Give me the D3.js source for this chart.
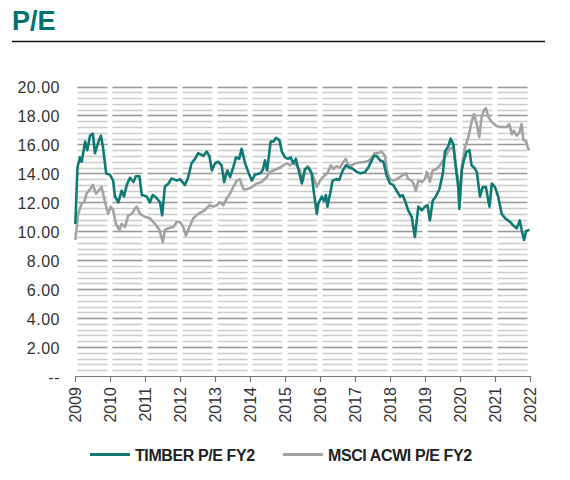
<!DOCTYPE html>
<html>
<head>
<meta charset="utf-8">
<script src="https://cdn.jsdelivr.net/npm/d3@7"></script>
<style>
body { margin: 0; background: #fff; }
text { font-family: "Liberation Sans", Arial, sans-serif; }
</style>
</head>
<body>
<svg id="chart"></svg>
<script>
// TIMBER P/E FY2 (decimal year, value)
var timberDates = [2009.01, 2009.07, 2009.14, 2009.19, 2009.29, 2009.35, 2009.43, 2009.51, 2009.57, 2009.67,
    2009.74, 2009.80, 2009.89, 2010.00, 2010.09, 2010.14, 2010.24, 2010.33, 2010.40, 2010.48,
    2010.57, 2010.67, 2010.74, 2010.84, 2010.91, 2011.05, 2011.14, 2011.22, 2011.33, 2011.43,
    2011.49, 2011.57, 2011.67, 2011.76, 2011.91, 2012.00, 2012.14, 2012.23, 2012.33, 2012.43,
    2012.52, 2012.67, 2012.76, 2012.84, 2012.91, 2013.00, 2013.09, 2013.19, 2013.26, 2013.35,
    2013.43, 2013.52, 2013.60, 2013.69, 2013.76, 2013.86, 2013.95, 2014.05, 2014.14, 2014.29,
    2014.36, 2014.43, 2014.49, 2014.59, 2014.67, 2014.74, 2014.84, 2014.91, 2015.00, 2015.09,
    2015.16, 2015.24, 2015.31, 2015.38, 2015.48, 2015.57, 2015.67, 2015.76, 2015.83, 2015.91,
    2015.95, 2016.05, 2016.11, 2016.17, 2016.21, 2016.29, 2016.36, 2016.46, 2016.55, 2016.65,
    2016.74, 2016.84, 2016.95, 2017.05, 2017.16, 2017.29, 2017.38, 2017.48, 2017.54, 2017.62,
    2017.71, 2017.81, 2017.91, 2018.00, 2018.09, 2018.19, 2018.29, 2018.36, 2018.43, 2018.52,
    2018.62, 2018.71, 2018.81, 2018.91, 2019.00, 2019.07, 2019.14, 2019.22, 2019.31, 2019.41,
    2019.51, 2019.57, 2019.67, 2019.73, 2019.81, 2019.89, 2019.95, 2019.98, 2020.05, 2020.11,
    2020.19, 2020.27, 2020.33, 2020.40, 2020.48, 2020.57, 2020.65, 2020.74, 2020.84, 2020.91,
    2021.00, 2021.09, 2021.19, 2021.29, 2021.43, 2021.52, 2021.62, 2021.71, 2021.76, 2021.83,
    2021.89, 2021.98]
var timberValues = [10.5, 14.4, 15.1, 14.8, 16.2, 15.6, 16.6, 16.75, 15.4, 16.2,
    16.6, 15.8, 14.0, 13.9, 13.5, 12.4, 12.0, 12.8, 12.4, 13.2,
    13.7, 13.4, 13.8, 13.8, 12.5, 12.4, 12.0, 12.5, 12.3, 12.0,
    11.1, 13.1, 13.3, 13.65, 13.5, 13.6, 13.2, 13.7, 14.7, 15.0,
    15.4, 15.2, 15.5, 15.2, 14.2, 14.7, 14.8, 14.55, 13.4, 14.2,
    13.75, 14.4, 15.1, 15.0, 15.7, 14.7, 14.1, 13.5, 13.9, 14.0,
    14.2, 14.9, 14.2, 16.2, 16.2, 16.45, 16.3, 15.5, 15.1, 15.0,
    15.1, 14.7, 15.0, 14.3, 13.3, 14.3, 14.4, 14.0, 12.6, 11.2,
    11.9, 12.4, 12.1, 12.5, 11.7, 12.6, 13.5, 13.6, 13.55, 14.2,
    14.55, 14.4, 14.3, 14.1, 14.0, 14.1, 14.4, 14.9, 15.2, 15.2,
    14.9, 14.8, 13.8, 13.3, 13.2, 12.8, 12.4, 12.5, 12.1, 11.45,
    11.0, 9.6, 11.7, 11.45, 11.7, 11.8, 10.75, 12.1, 12.4, 12.9,
    14.0, 15.5, 15.9, 16.4, 16.0, 14.2, 13.05, 11.55, 14.2, 14.9,
    15.5, 15.6, 14.55, 14.4, 14.1, 12.4, 13.05, 13.05, 11.7, 13.3,
    13.05, 12.4, 11.2, 10.9, 10.65, 10.4, 10.2, 10.75, 10.1, 9.4,
    10.0, 10.1]

// MSCI ACWI P/E FY2
var msciDates = [2009.01, 2009.09, 2009.19, 2009.26, 2009.33, 2009.43, 2009.51, 2009.60, 2009.67, 2009.76,
    2009.86, 2009.95, 2010.02, 2010.09, 2010.17, 2010.27, 2010.33, 2010.43, 2010.52, 2010.62,
    2010.71, 2010.76, 2010.86, 2011.00, 2011.14, 2011.29, 2011.41, 2011.51, 2011.57, 2011.67,
    2011.81, 2011.91, 2012.00, 2012.09, 2012.17, 2012.27, 2012.38, 2012.52, 2012.71, 2012.84,
    2012.95, 2013.05, 2013.14, 2013.24, 2013.33, 2013.43, 2013.52, 2013.62, 2013.71, 2013.81,
    2013.91, 2014.05, 2014.19, 2014.33, 2014.48, 2014.57, 2014.67, 2014.76, 2014.86, 2014.95,
    2015.05, 2015.14, 2015.24, 2015.33, 2015.43, 2015.51, 2015.57, 2015.64, 2015.71, 2015.81,
    2015.91, 2016.00, 2016.09, 2016.21, 2016.31, 2016.38, 2016.48, 2016.57, 2016.67, 2016.74,
    2016.81, 2016.91, 2017.00, 2017.14, 2017.29, 2017.38, 2017.48, 2017.57, 2017.67, 2017.76,
    2017.86, 2017.91, 2018.00, 2018.09, 2018.19, 2018.29, 2018.38, 2018.46, 2018.52, 2018.62,
    2018.67, 2018.74, 2018.81, 2018.91, 2019.00, 2019.05, 2019.14, 2019.22, 2019.33, 2019.43,
    2019.52, 2019.62, 2019.71, 2019.81, 2019.89, 2019.95, 2020.00, 2020.05, 2020.14, 2020.24,
    2020.33, 2020.40, 2020.48, 2020.55, 2020.62, 2020.69, 2020.74, 2020.81, 2020.91, 2021.05,
    2021.19, 2021.33, 2021.41, 2021.48, 2021.54, 2021.62, 2021.70, 2021.76, 2021.81, 2021.89,
    2021.95, 2021.98]
var msciValues = [9.4, 11.2, 11.9, 12.0, 12.6, 12.9, 13.2, 12.6, 12.8, 13.05,
    12.0, 11.2, 11.7, 11.45, 10.5, 10.1, 10.5, 10.3, 11.1, 11.2,
    11.55, 11.7, 11.2, 11.0, 10.9, 10.5, 10.1, 9.25, 10.1, 10.2,
    10.3, 10.65, 10.65, 10.3, 9.7, 10.3, 10.9, 11.2, 11.45, 11.8,
    11.7, 11.8, 12.0, 11.8, 12.25, 12.6, 13.05, 13.5, 13.6, 12.9,
    12.9, 13.05, 13.3, 13.4, 13.75, 14.1, 14.2, 14.3, 14.4, 14.55,
    14.7, 14.55, 14.7, 14.55, 14.2, 13.5, 14.2, 14.5, 14.3, 13.75,
    13.05, 13.5, 13.75, 14.0, 14.55, 14.3, 14.5, 14.4, 14.8, 15.0,
    14.55, 14.55, 14.7, 14.75, 14.8, 14.85, 15.1, 15.4, 15.4, 15.5,
    15.2, 14.2, 13.6, 13.5, 13.6, 13.75, 13.9, 14.0, 13.6, 13.5,
    13.3, 12.8, 13.5, 13.4, 13.6, 14.1, 13.4, 14.2, 14.3, 14.55,
    14.9, 15.35, 15.7, 15.8, 14.4, 13.5, 12.2, 14.4, 15.8, 16.5,
    17.55, 18.1, 17.4, 16.5, 17.9, 18.4, 18.5, 17.9, 17.55, 17.25,
    17.2, 17.2, 17.4, 16.7, 16.95, 16.6, 16.85, 17.4, 16.3, 16.2,
    15.7, 15.6]

var years = [2009, 2010, 2011, 2012, 2013, 2014, 2015, 2016, 2017, 2018, 2019, 2020, 2021, 2022]
var yTicks = [0, 2, 4, 6, 8, 10, 12, 14, 16, 18, 20]
var seriesNames = ["TIMBER P/E FY2", "MSCI ACWI P/E FY2"]

var width = 570
var height = 480
var teal = "#0f7a73"
var grey = "#a3a3a3"

var svg = d3.select("#chart")
    .attr("width", width)
    .attr("height", height)

// title + rule
svg.append("text")
    .attr("x", 12)
    .attr("y", 30)
    .style("font-size", "27px")
    .style("font-weight", "bold")
    .style("fill", "#00716c")
    .text("P/E")

svg.append("line")
    .attr("x1", 12).attr("x2", 545)
    .attr("y1", 41.5).attr("y2", 41.5)
    .attr("stroke", "#111")
    .attr("stroke-width", 1.5)

var x = d3.scaleLinear().domain([2009, 2022]).range([75, 530])
var y = d3.scaleLinear().domain([0, 20]).range([376, 86.5])

// grid: thin lines every 0.4, darker every 2, broken at each year
var grid = svg.append("g")
var gridLevels = d3.range(1, 51).map(function(i) { return i * 0.4 })
gridLevels.forEach(function(v, i) {
    var major = (i + 1) % 5 == 0
    years.slice(0, -1).forEach(function(yr) {
        grid.append("line")
            .attr("x1", x(yr) + 2.5)
            .attr("x2", x(yr + 1) - 2.5)
            .attr("y1", Math.round(y(v)) + 0.5)
            .attr("y2", Math.round(y(v)) + 0.5)
            .attr("stroke", major ? "#9a9a9a" : "#cdcdcd")
            .attr("stroke-width", 1.6)
    })
})

// x axis
var xAxis = svg.append("g")
    .attr("transform", "translate(0," + y(0) + ")")
    .call(d3.axisBottom(x)
        .tickValues(years)
        .tickSize(6)
        .tickSizeOuter(0)
        .tickFormat(d3.format("d")))
xAxis.select(".domain").attr("stroke", "#777").attr("stroke-width", 1.2)
xAxis.selectAll(".tick line").attr("stroke", "#777").attr("stroke-width", 1.2)
xAxis.selectAll(".tick text")
    .style("font-size", "16px")
    .style("fill", "#333")
    .attr("text-anchor", "end")
    .attr("transform", "rotate(-90)")
    .attr("x", -11)
    .attr("y", 0)
    .attr("dy", "0.36em")

// y axis labels
var yAxis = svg.append("g")
    .attr("transform", "translate(75,0)")
    .call(d3.axisLeft(y)
        .tickValues(yTicks)
        .tickSize(0)
        .tickPadding(15)
        .tickFormat(function(d) { return d == 0 ? "--" : d.toFixed(2) }))
yAxis.select(".domain").remove()
yAxis.selectAll(".tick text")
    .style("font-size", "16px")
    .style("letter-spacing", "0.5px")
    .style("fill", "#333")
    .attr("dy", "0.4em")

// lines
var line = d3.line()
    .x(function(d) { return x(d[0]) })
    .y(function(d) { return y(d[1]) })

svg.append("path")
    .datum(d3.zip(msciDates, msciValues))
    .attr("fill", "none")
    .attr("stroke", grey)
    .attr("stroke-width", 2.6)
    .attr("stroke-linejoin", "round")
    .attr("d", line)

svg.append("path")
    .datum(d3.zip(timberDates, timberValues))
    .attr("fill", "none")
    .attr("stroke", teal)
    .attr("stroke-width", 2.6)
    .attr("stroke-linejoin", "round")
    .attr("d", line)

// legend
var legendX = [90, 283]
var legendColors = [teal, grey]
var legend = svg.selectAll("g.legend")
    .data(seriesNames)
    .enter()
    .append("g")
    .attr("class", "legend")
    .attr("transform", function(d, i) { return "translate(" + legendX[i] + ",454.5)" })

legend.append("line")
    .attr("x1", 0).attr("x2", 40)
    .attr("stroke", function(d, i) { return legendColors[i] })
    .attr("stroke-width", 3)

legend.append("text")
    .attr("x", 45)
    .attr("y", 6)
    .style("font-size", "16px")
    .style("font-weight", "bold")
    .style("letter-spacing", "-0.4px")
    .style("fill", "#222")
    .text(function(d) { return d })
</script>
</body>
</html>
